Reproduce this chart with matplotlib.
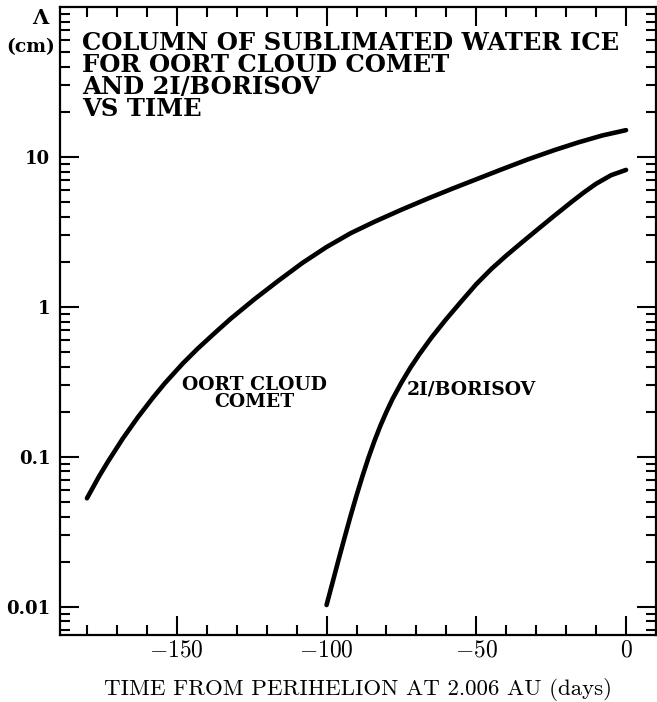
import matplotlib
matplotlib.use("Agg")
import matplotlib.pyplot as plt
from matplotlib.ticker import FixedLocator, FixedFormatter, MultipleLocator, FuncFormatter

# days from perihelion, sublimated column (cm)
oort_t = [-180, -176, -173, -168, -163, -158, -154, -148, -143, -137, -132, -124, -116,
          -108, -100, -92, -84, -75, -66, -58, -50, -42, -33, -24, -16, -8, 0]
oort_cm = [0.053, 0.074, 0.093, 0.133, 0.184, 0.248, 0.31, 0.42, 0.528, 0.68, 0.835, 1.13, 1.5,
           1.97, 2.51, 3.1, 3.7, 4.45, 5.3, 6.15, 7.1, 8.2, 9.6, 11.1, 12.5, 13.9, 15.1]

bor_t = [-100, -98, -96, -94, -92, -90, -88, -86, -84, -82, -80, -78, -75, -72, -69, -65,
         -60, -55, -50, -45, -40, -35, -30, -24, -18, -14, -10, -5, 0]
bor_cm = [0.0103, 0.01455, 0.0206, 0.0289, 0.0403, 0.0553, 0.0746, 0.0989, 0.128, 0.162, 0.200,
          0.243, 0.313, 0.394, 0.484, 0.624, 0.832, 1.09, 1.42, 1.79, 2.2, 2.67, 3.23, 4.05,
          5.05, 5.82, 6.63, 7.56, 8.2]

y_ticks = [0.01, 0.1, 1, 10]
y_tick_labels = ["0.01", "0.1", "1", "10"]

plt.rcParams['mathtext.fontset'] = 'cm'
bold = dict(fontfamily='DejaVu Serif', fontweight='bold')

fig = plt.figure(figsize=(6.57, 7.02), dpi=100)
ax = fig.add_axes([60/657, 1 - 635/702, 596/657, 628/702])

ax.plot(oort_t, oort_cm, color='black', lw=3.3, solid_capstyle='round', solid_joinstyle='round')
ax.plot(bor_t, bor_cm, color='black', lw=3.3, solid_capstyle='round', solid_joinstyle='round')

ax.set_yscale('log')
ax.set_xlim(-189, 10)
ax.set_ylim(0.0065, 100)

ax.yaxis.set_major_locator(FixedLocator(y_ticks))
ax.yaxis.set_major_formatter(FixedFormatter(y_tick_labels))
ax.xaxis.set_major_locator(MultipleLocator(50))
ax.xaxis.set_minor_locator(MultipleLocator(10))
ax.xaxis.set_major_formatter(FuncFormatter(lambda v, p: r"$%g$" % v))

ax.tick_params(which='both', direction='in', top=True, right=True, width=1.5)
ax.tick_params(which='major', length=14)
ax.tick_params(which='minor', length=7)
ax.tick_params(axis='x', labelsize=17, pad=2)
ax.tick_params(axis='y', labelsize=13, pad=7)
for lab in ax.get_yticklabels():
    lab.set_fontfamily('DejaVu Serif')
    lab.set_fontweight('bold')
for s in ax.spines.values():
    s.set_linewidth(1.6)

ax.set_xlabel("TIME FROM PERIHELION AT 2.006 AU (days)", fontfamily='cmr10', fontsize=16.5, labelpad=12)

# y axis label up in the corner
fig.text(40/657, 1 - 18/702, "Λ", ha='center', va='center', fontsize=15, **bold)
fig.text(31/657, 1 - 47/702, "(cm)", ha='center', va='center', fontsize=13.5, **bold)

ax.text(22/596, 1 - 24/628, "COLUMN OF SUBLIMATED WATER ICE\nFOR OORT CLOUD COMET\nAND 2I/BORISOV\nVS TIME",
        transform=ax.transAxes, fontsize=17.5, va='top', ha='left', linespacing=0.9, **bold)

ax.text(-124, 0.265, "OORT CLOUD\nCOMET", fontsize=13.5, ha='center', va='center', linespacing=0.95, **bold)
ax.text(-51.6, 0.28, "2I/BORISOV", fontsize=13.5, ha='center', va='center', **bold)

fig.savefig("out.png", dpi=100)
